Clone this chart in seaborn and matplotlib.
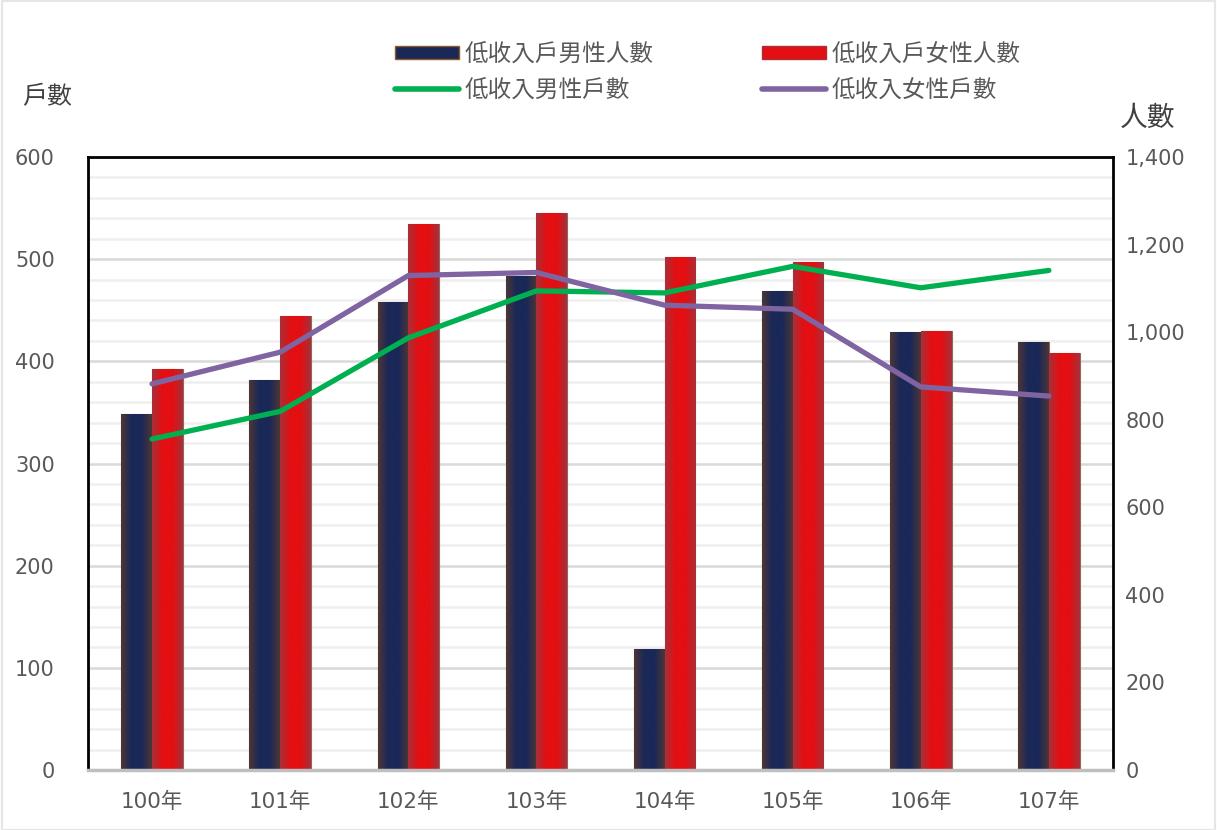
import numpy as np
import pandas as pd
import matplotlib
matplotlib.use("Agg")
import matplotlib.pyplot as plt
import seaborn as sns
from matplotlib.patches import Patch, Rectangle
from matplotlib.lines import Line2D
from matplotlib.colors import LinearSegmentedColormap

years = ["100年", "101年", "102年", "103年", "104年", "105年", "106年", "107年"]
# 人數 (right axis)
male_people = [812, 891, 1069, 1129, 276, 1094, 1000, 977]
female_people = [915, 1036, 1246, 1272, 1172, 1160, 1003, 953]
# 戶數 (left axis)
male_households = [324, 351, 423, 469, 467, 493, 472, 489]
female_households = [378, 409, 484, 487, 455, 451, 375, 366]

series_names = ["低收入戶男性人數", "低收入戶女性人數", "低收入男性戶數", "低收入女性戶數"]

navy = "#1a2858"
red = "#e30f12"
green = "#00b050"
purple = "#8064a2"
gray_txt = "#595959"

sns.set_theme(style="white")
plt.rcParams["font.family"] = ["DejaVu Sans", "Noto Sans CJK TC"]

fig = plt.figure(figsize=(12.17, 8.30), dpi=100)
ax = fig.add_axes([0.0723, 0.0723, 0.8422, 0.7385])

bars = pd.DataFrame({
    "year": years * 2,
    "series": [series_names[0]] * len(years) + [series_names[1]] * len(years),
    "value": male_people + female_people,
})
sns.barplot(data=bars, x="year", y="value", hue="series", hue_order=series_names[:2],
            palette=[navy, red], width=0.48, saturation=1, legend=False, ax=ax,
            edgecolor="#8a6a5a", linewidth=0.8, zorder=2)

# horizontal gradient inside each bar, darker toward edges like the original
grad_male = LinearSegmentedColormap.from_list("m", ["#4d3636", navy, navy, "#4d3636"])
grad_female = LinearSegmentedColormap.from_list("f", ["#a8303a", red, red, "#a8303a"])
g = np.linspace(0, 1, 64).reshape(1, -1)
for i, p in enumerate(ax.patches[:2 * len(years)]):
    cmap = grad_male if i < len(years) else grad_female
    x0, y0 = p.get_x(), p.get_y()
    im = ax.imshow(g, cmap=cmap, aspect="auto", zorder=2.5,
                   extent=[x0, x0 + p.get_width(), y0, y0 + p.get_height()])
    im.set_clip_path(p)

ax.set_xlim(-0.5, len(years) - 0.5)
ax.set_ylim(0, 1400)
ax.set_xlabel("")
ax.set_ylabel("")

# grid lines follow the left (戶數) scale: light every 20, darker every 100
for v in range(20, 601, 20):
    ax.axhline(v * 1400 / 600, color="#d9d9d9" if v % 100 == 0 else "#efefef",
               lw=1.8, zorder=0.5)

ax.set_xticks(range(len(years)))
ax.set_xticklabels(years)
ax.set_xticks(np.arange(-0.5, len(years), 1), minor=True)
ax.tick_params(axis="x", which="major", length=0, pad=16, labelsize=15.5, labelcolor=gray_txt)
ax.tick_params(axis="x", which="minor", length=7, width=2, color="#bfbfbf", direction="out")

for side in ["top", "left", "right"]:
    ax.spines[side].set_color("black")
    ax.spines[side].set_linewidth(2)
ax.spines["bottom"].set_color("#bfbfbf")
ax.spines["bottom"].set_linewidth(2.5)

ax2 = ax.twinx()
sns.lineplot(x=years, y=male_households, color=green, lw=3.8, ax=ax2, sort=False)
sns.lineplot(x=years, y=female_households, color=purple, lw=3.8, ax=ax2, sort=False)
ax2.set_ylim(0, 600)
ax2.set_yticks(range(0, 601, 100))
ax2.yaxis.tick_left()
ax2.tick_params(axis="y", length=0, pad=24, labelsize=15, labelcolor=gray_txt)
for s in ax2.spines.values():
    s.set_visible(False)
ax2.set_ylabel("")

# bars' scale on the right side (set after twinx, which moves ticks)
ax.yaxis.tick_right()
ax.set_yticks(range(0, 1401, 200))
ax.set_yticklabels([f"{v:,}" for v in range(0, 1401, 200)])
ax.tick_params(axis="y", length=0, pad=9, labelsize=15, labelcolor=gray_txt)

fig.text(22 / 1217, 1 - 97 / 830, "戶數", fontsize=18, color="#404040", va="center", ha="left")
fig.text(1120 / 1217, 1 - 118 / 830, "人數", fontsize=20, color="#404040", va="center", ha="left")

handles = [
    Patch(facecolor=navy, edgecolor="#8a5a2a", lw=1),
    Line2D([0], [0], color=green, lw=4),
    Patch(facecolor=red, edgecolor="#a8303a", lw=1),
    Line2D([0], [0], color=purple, lw=4),
]
labels = [series_names[0], series_names[2], series_names[1], series_names[3]]
leg = fig.legend(handles, labels, loc="upper left", bbox_to_anchor=(383 / 1217, 1 - 30 / 830),
                 ncol=2, frameon=False, fontsize=17, handlelength=2.7, handleheight=0.5,
                 handletextpad=0.25, columnspacing=4.6, labelspacing=0.5, borderpad=0,
                 labelcolor=gray_txt)

fig.patches.append(Rectangle((0.002, 0.0), 0.996, 0.999, transform=fig.transFigure,
                             fill=False, edgecolor="#e6e6e6", lw=1.5))

fig.savefig("out.png", dpi=100)
